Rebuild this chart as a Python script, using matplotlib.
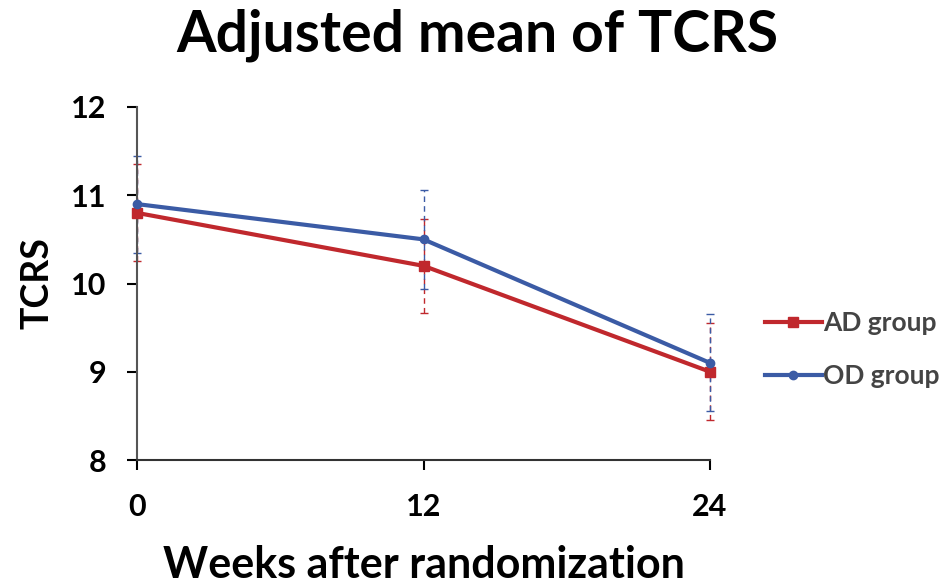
import matplotlib
matplotlib.use("Agg")
import matplotlib.pyplot as plt

weeks = [0, 12, 24]
ad_mean = [10.8, 10.2, 9.0]
od_mean = [10.9, 10.5, 9.1]
ad_err = [0.55, 0.53, 0.55]
od_err = [0.55, 0.56, 0.55]
yticks = [8, 9, 10, 11, 12]

plt.rcParams['font.family'] = ['Lato', 'DejaVu Sans']
red = '#c0282d'
blue = '#3b5ba5'

fig = plt.figure(figsize=(9.51, 5.84), dpi=100)
ax = fig.add_axes([137/951, 1-460/584, (710-137)/951, (460-107)/584])

for m, e, c, mk, ms, lab in [(ad_mean, ad_err, red, 's', 7, 'AD group'),
                             (od_mean, od_err, blue, 'o', 6, 'OD group')]:
    ax.plot(weeks, m, color=c, lw=3, marker=mk, ms=ms, label=lab, zorder=3, clip_on=False)
    eb = ax.errorbar(weeks, m, yerr=e, fmt='none', ecolor=c, elinewidth=1,
                     capsize=3, capthick=1, zorder=2, clip_on=False)
    for lc in eb[2]:
        lc.set_linestyle((0, (4, 3)))

ax.set_xlim(0, 24)
ax.set_ylim(8, 12)
ax.set_xticks(weeks)
ax.set_yticks(yticks)
ax.tick_params(axis='both', direction='out', length=7, width=1.5, labelsize=22, colors='black')
ax.tick_params(axis='y', pad=15)
ax.tick_params(axis='x', pad=17)
for lbl in ax.get_xticklabels() + ax.get_yticklabels():
    lbl.set_fontweight('bold')
ax.spines['top'].set_visible(False)
ax.spines['right'].set_visible(False)
ax.spines['left'].set_color('#555555')
ax.spines['bottom'].set_color('#333333')
ax.spines['left'].set_linewidth(1.5)
ax.spines['bottom'].set_linewidth(1.5)

ax.set_ylabel('TCRS', fontsize=27, fontweight='bold', labelpad=12)
ax.set_xlabel('Weeks after randomization', fontsize=31, fontweight='bold')
ax.xaxis.set_label_coords(0.5, (460-578)/353)
ax.xaxis.label.set_va('baseline')
fig.suptitle('Adjusted mean of TCRS', fontsize=41, fontweight='bold',
             x=477/951, y=1-52/584, va='baseline')

leg = ax.legend(loc='center left', bbox_to_anchor=(0.096, 0.312),
                bbox_transform=ax.transAxes, frameon=False,
                borderaxespad=0, borderpad=0,
                fontsize=19, handlelength=2.15, handletextpad=0.05, labelspacing=1.1)
leg.set_bbox_to_anchor((1.096, 0.312), transform=ax.transAxes)
for t in leg.get_texts():
    t.set_fontweight('bold')
    t.set_color('#444444')

fig.savefig('out.png', dpi=100)
